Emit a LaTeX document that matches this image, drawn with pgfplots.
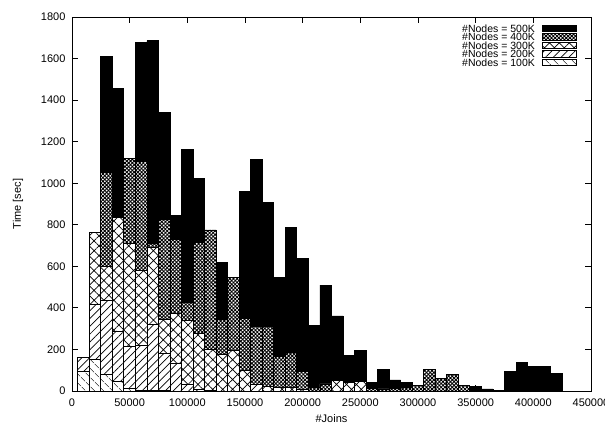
\documentclass[border=0pt]{standalone}
\usepackage{fontspec}
\setmainfont{Liberation Sans}
\usepackage{pgfplots}
\pgfplotsset{compat=1.18}
\usetikzlibrary{patterns.meta}
\pgfplotsset{
  barbase/.style={ybar, bar width=10000, bar shift=0pt, draw=black, line width=0.8pt,
    legend image code/.code={\draw[##1] (0pt,-3.3pt) rectangle (34pt,3.3pt);}},
  s500/.style={barbase, fill=black},
  s400/.style={barbase, fill=white, postaction={pattern={Hatch[angle=45,distance=2.6pt,line width=0.9pt]}}},
  s300/.style={barbase, fill=white, postaction={pattern={Hatch[angle=45,distance=7pt,line width=0.7pt]}}},
  s200/.style={barbase, fill=white, postaction={pattern={Lines[angle=45,distance=5.5pt,line width=0.7pt]}}},
  s100/.style={barbase, fill=white, postaction={pattern={Lines[angle=-45,distance=6.5pt,line width=0.7pt]}}},
}
\begin{document}
\begin{tikzpicture}
\useasboundingbox (-72pt,-33pt) rectangle (533pt,391pt);
\begin{axis}[
  at={(0,0)}, anchor=south west,
  scale only axis, width=519pt, height=374pt,
  xmin=0, xmax=450000, ymin=0, ymax=1800,
  xtick={0,50000,...,450000}, ytick={0,200,...,1800},
  scaled x ticks=false, scaled y ticks=false,
  /pgf/number format/assume math mode=true,
  /pgf/number format/1000 sep={},
  /pgf/number format/fixed,
  tick label style={font=\fontsize{11}{13}\selectfont},
  label style={font=\fontsize{11}{13}\selectfont},
  tick align=inside, major tick length=6pt,
  axis line style={line width=0.8pt},
  tick style={black, line width=0.8pt},
  xticklabel style={yshift=-4pt},
  yticklabel style={xshift=-3pt},
  xlabel={\#Joins}, ylabel={Time [sec]},
  xlabel style={at={(axis description cs:0.5,-0.075)}, anchor=center},
  ylabel style={at={(axis description cs:-0.104,0.5)}, anchor=center},
  legend cell align=right, legend plot pos=right,
  legend style={at={(0.973,0.981)}, anchor=north east, draw=none, fill=none,
    inner sep=0pt, font=\fontsize{10.5}{10.5}\selectfont, column sep=7pt, row sep=0pt,
    nodes={inner sep=0.1pt, text height=7.9pt, text depth=0.4pt}},
]
\addplot[s500] coordinates {(30000,1609) (40000,1457) (60000,1676) (70000,1686) (80000,1340) (90000,847) (100000,1163) (110000,1024) (130000,620) (150000,959) (160000,1115) (170000,906) (180000,545) (190000,786) (200000,639) (210000,314) (220000,510) (230000,361) (240000,172) (250000,197) (260000,42) (270000,104) (280000,53) (290000,42) (350000,20) (360000,10) (370000,4) (380000,93) (390000,136) (400000,117) (410000,117) (420000,85)};
\addlegendentry{\#Nodes = 500K}
\addplot[s400] coordinates {(30000,1051) (50000,1120) (60000,1104) (70000,711) (80000,825) (90000,730) (100000,428) (110000,714) (120000,775) (130000,346) (140000,545) (150000,348) (160000,310) (170000,310) (180000,165) (190000,186) (200000,93) (210000,19) (220000,34) (260000,14) (270000,10) (280000,12) (290000,15) (300000,26) (310000,105) (320000,61) (330000,80) (340000,27)};
\addlegendentry{\#Nodes = 400K}
\addplot[s300] coordinates {(20000,764) (30000,598) (40000,834) (50000,711) (60000,579) (70000,690) (80000,346) (90000,375) (100000,341) (110000,275) (120000,201) (130000,175) (140000,194) (150000,100) (170000,24) (180000,18) (190000,15) (200000,10) (230000,50) (240000,42) (250000,45)};
\addlegendentry{\#Nodes = 300K}
\addplot[s200] coordinates {(10000,160) (20000,417) (30000,435) (40000,289) (50000,213) (60000,221) (70000,322) (80000,181) (90000,135) (100000,33) (110000,9) (120000,3) (160000,34)};
\addlegendentry{\#Nodes = 200K}
\addplot[s100] coordinates {(10000,96) (20000,152) (30000,82) (40000,45) (50000,13) (60000,5) (70000,3) (80000,2)};
\addlegendentry{\#Nodes = 100K}
\end{axis}
\end{tikzpicture}
\end{document}
